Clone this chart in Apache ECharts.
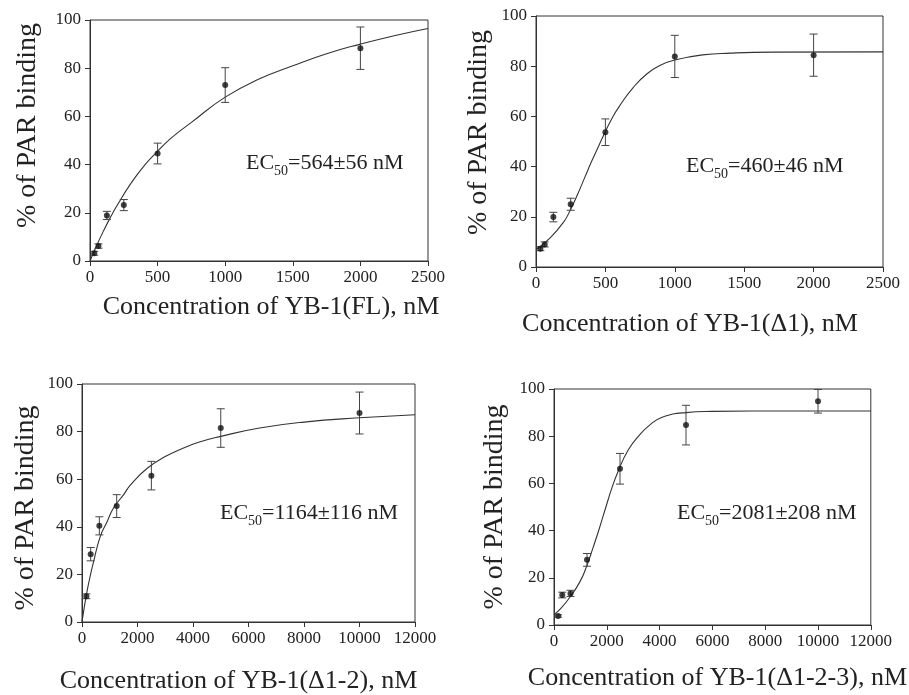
<!DOCTYPE html>
<html>
<head>
<meta charset="utf-8">
<script src="https://cdn.jsdelivr.net/npm/echarts@6/dist/echarts.min.js"></script>
<style>
  html, body { margin: 0; padding: 0; background: #fff; }
  #main { width: 909px; height: 695px; }
</style>
</head>
<body>
<div id="main"></div>
<script>
// concentrations (nM)
const concLow = [31.25, 62.5, 125, 250, 500, 1000, 2000];
const concHigh = [156.25, 312.5, 625, 1250, 2500, 5000, 10000];

// % of PAR binding, mean and error
const flMean = [3.2, 6.2, 18.9, 23.2, 44.6, 73.0, 88.3];
const flErr = [0.8, 0.9, 1.7, 2.3, 4.3, 7.2, 8.8];
const d1Mean = [7.3, 9.0, 19.9, 25.0, 53.7, 83.9, 84.4];
const d1Err = [0.8, 1.0, 1.9, 2.4, 5.3, 8.4, 8.4];
const d12Mean = [10.8, 28.5, 40.4, 48.7, 61.5, 81.5, 87.8];
const d12Err = [1.0, 2.8, 3.8, 4.8, 6.0, 8.1, 8.8];
const d123Mean = [3.8, 12.7, 13.4, 27.6, 66.2, 84.7, 94.8];
const d123Err = [0.5, 1.2, 1.3, 2.7, 6.5, 8.4, 5.0];

// fitted curves
const flFit = [[0,0],[50,6.5],[100,12.5],[150,18],[200,23],[300,32],[400,39.5],[500,45.5],[600,51],[750,57.5],
  [1000,68],[1250,75.5],[1500,81],[1750,86],[2000,90],[2250,93.5],[2500,96.5]];
const d1Fit = [[0,7],[100,11.5],[200,18],[250,23],[300,29],[350,35.5],[400,42],[450,48],[500,54],[550,59.5],
  [600,64],[700,71.5],[800,77],[900,80.5],[1000,82.5],[1200,84.5],[1400,85.2],[1700,85.6],[2500,85.7]];
const d12Fit = [[0,0],[100,7.5],[200,14],[300,19.5],[420,25.5],[660,36],[900,42],[1140,48],[1500,53.5],[1740,57.5],
  [2340,64.5],[3000,69.5],[3540,72.5],[4200,75.5],[5000,78],[6400,81.5],[8000,84],[10000,85.8],[12000,87.1]];
const d123Fit = [[0,4.4],[270,7.2],[630,12.2],[1000,18.7],[1240,25],[1480,32.8],[1720,41],[1960,49.8],[2200,58.3],
  [2450,65.7],[2800,73.9],[3200,80],[3600,84.5],[4100,88],[5000,90],[6000,90.5],[7500,90.7],[12000,90.7]];

const xNames = ['Concentration of YB-1(FL), nM', 'Concentration of YB-1(\u03941), nM',
  'Concentration of YB-1(\u03941-2), nM', 'Concentration of YB-1(\u03941-2-3), nM'];
const yName = '% of PAR binding';
const ec50Values = ['564\u00b156 nM', '460\u00b146 nM', '1164\u00b1116 nM', '2081\u00b1208 nM'];

const font = '"Liberation Serif", "Times New Roman", serif';
const ink = '#222';

const grids = [
  { left: 90, top: 20, width: 338, height: 241 },
  { left: 536, top: 16, width: 347, height: 251 },
  { left: 82, top: 384, width: 333, height: 240 },
  { left: 554, top: 389, width: 328, height: 236 }
];
const xMax = [2500, 2500, 12000, 12000];
const xStep = [500, 500, 2000, 2000];
const xGap = [33, 44, 46, 40];
const xPad = [[0, 0, 0, 24], [0, 39, 0, 0], [0, 20, 0, 0], [0, 0, 0, 10]];
const yGap = [48, 43, 42, 45];
const yPad = [[0, 0, 0, 30], [0, 0, 0, 18], [0, 10, 0, 0], [0, 0, 0, 0]];
const ecPos = [[246, 163], [686, 166], [220, 513], [677, 513]];

const panels = [
  { x: concLow, mean: flMean, err: flErr, fit: flFit },
  { x: concLow, mean: d1Mean, err: d1Err, fit: d1Fit },
  { x: concHigh, mean: d12Mean, err: d12Err, fit: d12Fit },
  { x: concHigh, mean: d123Mean, err: d123Err, fit: d123Fit }
];

const axisLine = { show: true, onZero: false, lineStyle: { color: '#333', width: 1 } };

const option = {
  backgroundColor: '#fff',
  animation: false,
  grid: grids.map(g => Object.assign({ show: true, borderColor: '#333', borderWidth: 1 }, g)),
  xAxis: grids.map((g, i) => ({
    type: 'value', gridIndex: i, min: 0, max: xMax[i], interval: xStep[i],
    name: xNames[i], nameLocation: 'middle', nameGap: xGap[i],
    nameTextStyle: { fontFamily: font, fontSize: 26, color: ink, padding: xPad[i] },
    axisLine: axisLine,
    axisTick: { show: true, inside: false, length: 5, lineStyle: { color: '#333' } },
    axisLabel: { fontFamily: font, fontSize: 17, color: ink, margin: 8, showMaxLabel: true,
      formatter: v => String(v) },
    splitLine: { show: false }
  })),
  yAxis: grids.map((g, i) => ({
    type: 'value', gridIndex: i, min: 0, max: 100, interval: 20,
    name: yName, nameLocation: 'middle', nameGap: yGap[i],
    nameTextStyle: { fontFamily: font, fontSize: 28, color: ink, padding: yPad[i] },
    axisLine: axisLine,
    axisTick: { show: true, inside: false, length: 5, lineStyle: { color: '#333' } },
    axisLabel: { fontFamily: font, fontSize: 17, color: ink, margin: 9 },
    splitLine: { show: false }
  })),
  series: []
};

panels.forEach((p, i) => {
  // fit curve
  option.series.push({
    type: 'line', xAxisIndex: i, yAxisIndex: i,
    data: p.fit, smooth: 0.5, showSymbol: false,
    lineStyle: { color: '#333', width: 1.1 }, z: 2
  });
  // error bars
  option.series.push({
    type: 'custom', xAxisIndex: i, yAxisIndex: i,
    data: p.x.map((x, k) => [x, p.mean[k], p.err[k]]),
    encode: { x: 0, y: 1 },
    renderItem: function (params, api) {
      const x = api.value(0), y = api.value(1), e = api.value(2);
      const top = api.coord([x, y + e]);
      const bot = api.coord([x, y - e]);
      const st = { stroke: '#444', lineWidth: 1 };
      return {
        type: 'group',
        children: [
          { type: 'line', shape: { x1: top[0], y1: top[1], x2: bot[0], y2: bot[1] }, style: st },
          { type: 'line', shape: { x1: top[0] - 4, y1: top[1], x2: top[0] + 4, y2: top[1] }, style: st },
          { type: 'line', shape: { x1: bot[0] - 4, y1: bot[1], x2: bot[0] + 4, y2: bot[1] }, style: st }
        ]
      };
    },
    z: 3
  });
  // points
  option.series.push({
    type: 'scatter', xAxisIndex: i, yAxisIndex: i,
    data: p.x.map((x, k) => [x, p.mean[k]]),
    symbol: 'circle', symbolSize: 6,
    itemStyle: { color: '#111' }, z: 4
  });
});

option.graphic = ecPos.map((pos, i) => ({
  type: 'text', x: pos[0], y: pos[1], z: 10,
  style: {
    text: '{a|EC}{s|50}{a|=' + ec50Values[i] + '}',
    verticalAlign: 'middle',
    fill: ink,
    rich: {
      a: { fontFamily: font, fontSize: 22, lineHeight: 30, verticalAlign: 'middle', color: ink },
      s: { fontFamily: font, fontSize: 14, lineHeight: 30, verticalAlign: 'bottom', color: ink }
    }
  }
}));

const chart = echarts.init(document.getElementById('main'), null, { renderer: 'canvas' });
chart.setOption(option);
</script>
</body>
</html>
